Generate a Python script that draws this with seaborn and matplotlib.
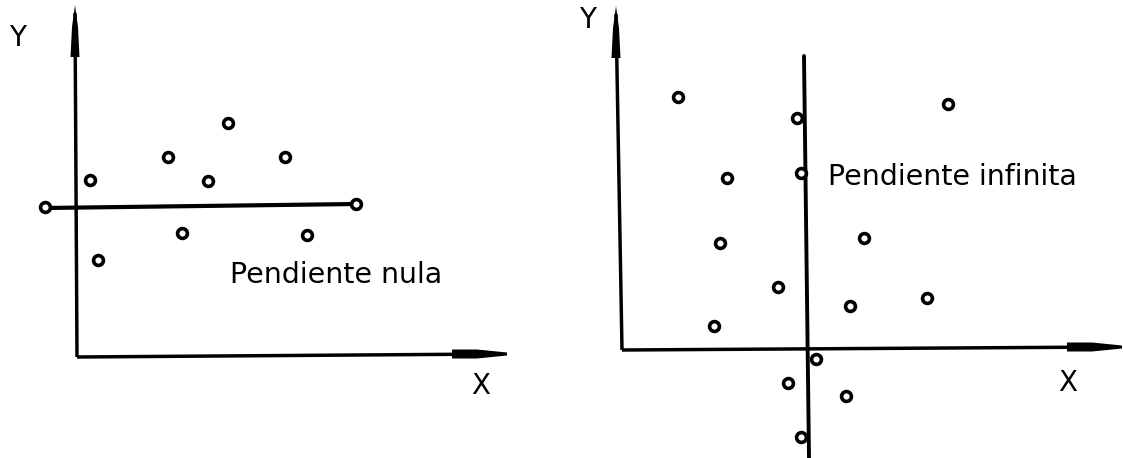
import matplotlib
matplotlib.use("Agg")
import matplotlib.pyplot as plt
import seaborn as sns
import pandas as pd

# ---- data (drawing units: 1 unit = 1 px, y grows downward) ----
left_x = [45, 90, 98, 168, 182, 208, 228, 285, 307, 356]
left_y = [207, 180, 260, 157, 233, 181, 123, 157, 235, 204]
left_fit_x = [45, 356]
left_fit_y = [208, 204]

right_x = [678, 797, 948, 727, 801, 720, 864, 778, 927, 850, 714, 816, 788, 846, 801]
right_y = [97, 118, 104, 178, 173, 243, 238, 287, 298, 306, 326, 359, 383, 396, 437]
right_fit_x = [804, 809]
right_fit_y = [56, 458]

labels = ["Pendiente nula", "Pendiente infinita"]
axis_names = ["X", "Y"]

sns.set_theme(style="white")
plt.rcParams["font.family"] = ["DejaVu Sans"]

fig = plt.figure(figsize=(11.23, 4.58), dpi=100)
ax = fig.add_axes([0, 0, 1, 1])
ax.set_xlim(0, 1123)
ax.set_ylim(458, 0)
ax.axis("off")

K = "black"
AX_LW = 2.5

def axes_frame(ox, oy, ytop_x, ytop, xend, xend_y):
    # vertical axis
    ax.plot([ox, ytop_x], [oy, ytop + 8], color=K, lw=AX_LW, solid_capstyle="butt")
    ax.fill([ytop_x - 4.5, ytop_x + 4.5, ytop_x + 3, ytop_x, ytop_x - 3],
            [ytop + 52, ytop + 52, ytop + 22, ytop, ytop + 22], color=K, lw=0)
    # horizontal axis
    ax.plot([ox, xend - 10], [oy, xend_y], color=K, lw=AX_LW, solid_capstyle="butt")
    ax.fill([xend - 55, xend - 30, xend, xend, xend - 30, xend - 55],
            [xend_y - 4.5, xend_y - 4.5, xend_y - 1.5, xend_y + 1.5, xend_y + 4.5, xend_y + 4.5],
            color=K, lw=0)

axes_frame(77, 357, 75, 5, 507, 354)
axes_frame(622, 350, 616, 6, 1122, 347)

# fitted lines
sns.lineplot(x=left_fit_x, y=left_fit_y, ax=ax, color=K, lw=3.0, estimator=None, sort=False)
sns.lineplot(x=right_fit_x, y=right_fit_y, ax=ax, color=K, lw=2.8, estimator=None, sort=False)

# points
pts = pd.DataFrame({"x": left_x + right_x, "y": left_y + right_y})
sns.scatterplot(data=pts, x="x", y="y", ax=ax, s=50, facecolor="white",
                edgecolor=K, linewidth=2.6, zorder=5, legend=False)
ax.set_xlabel("")
ax.set_ylabel("")

fs = 20.5
ax.text(230, 283, labels[0], fontsize=fs, color=K, ha="left", va="baseline")
ax.text(828, 185, labels[1], fontsize=fs, color=K, ha="left", va="baseline")

fs2 = 20
ax.text(18, 38, axis_names[1], fontsize=fs2, color=K, ha="center", va="center")
ax.text(481, 386, axis_names[0], fontsize=fs2, color=K, ha="center", va="center")
ax.text(588, 20, axis_names[1], fontsize=fs2, color=K, ha="center", va="center")
ax.text(1068, 383, axis_names[0], fontsize=fs2, color=K, ha="center", va="center")

fig.savefig("out.png", dpi=100, facecolor="white")
